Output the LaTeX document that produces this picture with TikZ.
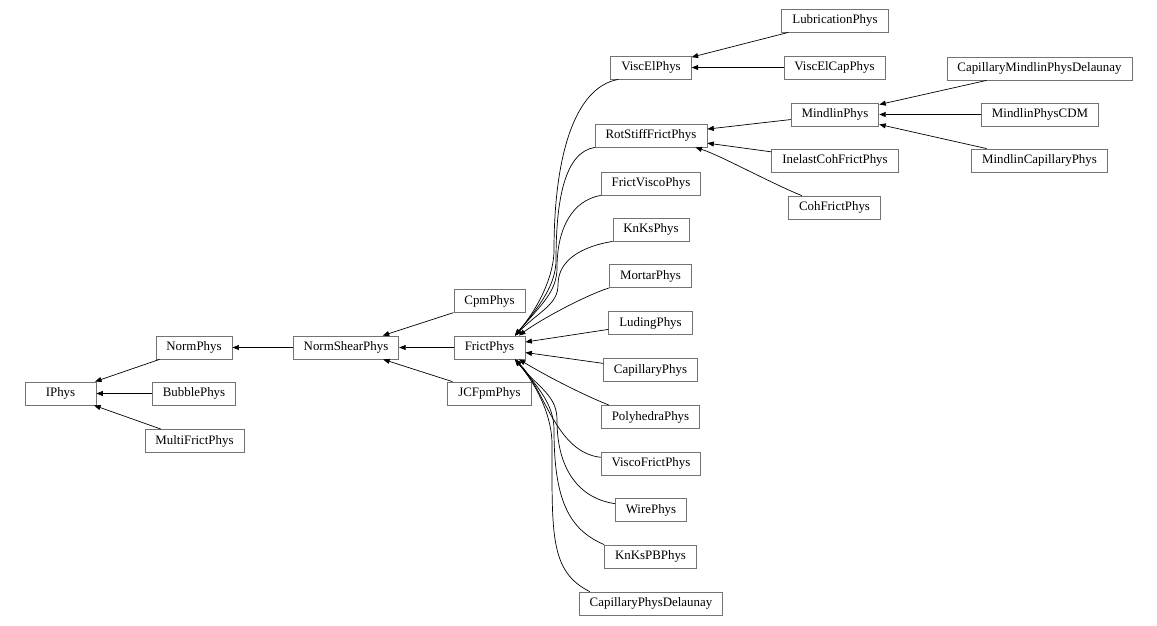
\documentclass[tikz,border=0pt]{standalone}
\usepackage{fontspec}
\setmainfont{Liberation Serif}
\usepackage{tikz}
\usetikzlibrary{arrows.meta}

\begin{document}
\begin{tikzpicture}[
				x=1pt, y=-1pt,
				cls/.style={rectangle, draw=black!55, fill=white, line width=0.8pt, minimum width=71pt, minimum height=23pt, inner xsep=10.5pt, inner ysep=0pt, font=\fontsize{12.9}{14}\selectfont},
				inherit/.style={{Triangle[length=6.5pt,width=5pt]}-, line width=0.7pt, black}
				]
				\useasboundingbox (0,0) rectangle (1157,626);
				% first columns
				\node[cls] (IPhys) at (60.5,393.5) {IPhys};
				\node[cls] (NormPhys) at (194,347.5) {NormPhys};
				\node[cls] (BubblePhys) at (194,393.5) {BubblePhys};
				\node[cls] (MultiFrictPhys) at (194.5,441) {MultiFrictPhys};
				\node[cls] (NormShearPhys) at (346,347.5) {NormShearPhys};
				\node[cls] (CpmPhys) at (489.5,301) {CpmPhys};
				\node[cls] (FrictPhys) at (489.5,347.5) {FrictPhys};
				\node[cls] (JCFpmPhys) at (489.5,393.5) {JCFpmPhys};
				% children of FrictPhys
				\node[cls] (ViscElPhys) at (651,67.5) {ViscElPhys};
				\node[cls] (RotStiffFrictPhys) at (651,135.5) {RotStiffFrictPhys};
				\node[cls] (FrictViscoPhys) at (651,183.5) {FrictViscoPhys};
				\node[cls] (KnKsPhys) at (651,229.5) {KnKsPhys};
				\node[cls] (MortarPhys) at (650.5,276) {MortarPhys};
				\node[cls] (LudingPhys) at (650.5,323) {LudingPhys};
				\node[cls] (CapillaryPhys) at (650.5,370) {CapillaryPhys};
				\node[cls] (PolyhedraPhys) at (650.5,417) {PolyhedraPhys};
				\node[cls] (ViscoFrictPhys) at (651,463.5) {ViscoFrictPhys};
				\node[cls] (WirePhys) at (651,510) {WirePhys};
				\node[cls] (KnKsPBPhys) at (650.5,556.5) {KnKsPBPhys};
				\node[cls] (CapillaryPhysDelaunay) at (651,603.5) {CapillaryPhysDelaunay};
				% further levels
				\node[cls] (LubricationPhys) at (835,20.5) {LubricationPhys};
				\node[cls] (ViscElCapPhys) at (834.5,67.5) {ViscElCapPhys};
				\node[cls] (MindlinPhys) at (835,114.5) {MindlinPhys};
				\node[cls] (InelastCohFrictPhys) at (835,160.5) {InelastCohFrictPhys};
				\node[cls] (CohFrictPhys) at (834.5,207.5) {CohFrictPhys};
				\node[cls] (CapillaryMindlinPhysDelaunay) at (1039.5,68.5) {CapillaryMindlinPhysDelaunay};
				\node[cls] (MindlinPhysCDM) at (1040,114.5) {MindlinPhysCDM};
				\node[cls] (MindlinCapillaryPhys) at (1039.5,160.5) {MindlinCapillaryPhys};
				
				\draw[inherit] (IPhys) -- (NormPhys);
				\draw[inherit] (IPhys) -- (BubblePhys);
				\draw[inherit] (IPhys) -- (MultiFrictPhys);
				\draw[inherit] (NormPhys) -- (NormShearPhys);
				\draw[inherit] (NormShearPhys) -- (CpmPhys);
				\draw[inherit] (NormShearPhys) -- (FrictPhys);
				\draw[inherit] (NormShearPhys) -- (JCFpmPhys);
				
				% bundle going up
				\draw[inherit] (FrictPhys.25) .. controls +(25,-30) and +(0,25) .. ++(39,-86) .. controls +(0,-90) and +(-45,8) .. (ViscElPhys.200);
				\draw[inherit] (FrictPhys.25) .. controls +(25,-30) and +(0,25) .. ++(41,-76) .. controls +(0,-60) and +(-30,5) .. (RotStiffFrictPhys.south west);
				\draw[inherit] (FrictPhys.25) .. controls +(25,-30) and +(0,25) .. ++(42,-68) .. controls +(0,-40) and +(-28,5) .. (FrictViscoPhys.south west);
				\draw[inherit] (FrictPhys.25) .. controls +(25,-25) and +(0,20) .. ++(43,-51) .. controls +(0,-25) and +(-30,5) .. (KnKsPhys.south west);
				\draw[inherit] (FrictPhys.22) .. controls +(20,-15) and +(-25,8) .. (MortarPhys.south west);
				\draw[inherit] (FrictPhys) -- (LudingPhys);
				\draw[inherit] (FrictPhys) -- (CapillaryPhys);
				% bundle going down
				\draw[inherit] (FrictPhys.-22) .. controls +(25,15) and +(-30,-12) .. (PolyhedraPhys.164);
				\draw[inherit] (FrictPhys.-25) .. controls +(30,30) and +(-45,-5) .. (ViscoFrictPhys.173);
				\draw[inherit] (FrictPhys.-25) .. controls +(25,30) and +(0,-25) .. ++(42,61) .. controls +(0,50) and +(-35,-5) .. (WirePhys.170);
				\draw[inherit] (FrictPhys.-25) .. controls +(25,30) and +(0,-25) .. ++(39,71) .. controls +(0,70) and +(-35,-15) .. (KnKsPBPhys.north west);
				\draw[inherit] (FrictPhys.-25) .. controls +(25,30) and +(0,-25) .. ++(37,85) .. controls +(0,90) and +(-40,-20) .. (CapillaryPhysDelaunay.169);
				
				\draw[inherit] (ViscElPhys) -- (LubricationPhys);
				\draw[inherit] (ViscElPhys) -- (ViscElCapPhys);
				\draw[inherit] (RotStiffFrictPhys) -- (MindlinPhys);
				\draw[inherit] (RotStiffFrictPhys) -- (InelastCohFrictPhys);
				\draw[inherit] (RotStiffFrictPhys.-15) .. controls +(25,8) and +(-30,-12) .. (CohFrictPhys.160);
				\draw[inherit] (MindlinPhys) -- (CapillaryMindlinPhysDelaunay);
				\draw[inherit] (MindlinPhys) -- (MindlinPhysCDM);
				\draw[inherit] (MindlinPhys) -- (MindlinCapillaryPhys);
			\end{tikzpicture}
\end{document}
